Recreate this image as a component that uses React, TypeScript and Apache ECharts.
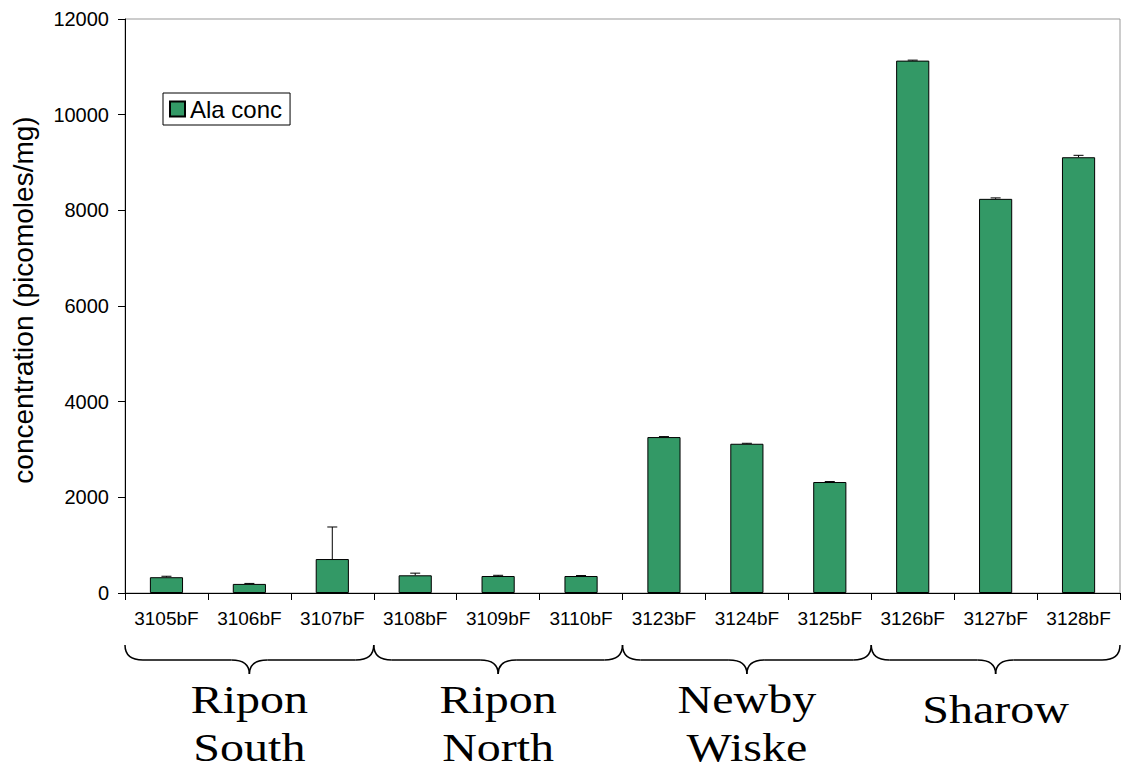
import React, { useEffect, useRef } from "react";
import * as echarts from "echarts";

const categories = ["3105bF", "3106bF", "3107bF", "3108bF", "3109bF", "3110bF", "3123bF", "3124bF", "3125bF", "3126bF", "3127bF", "3128bF"];
const alaConc = [330, 190, 710, 370, 355, 355, 3260, 3120, 2320, 11130, 8240, 9110];
const alaErr = [20, 10, 670, 45, 15, 10, 10, 10, 10, 10, 20, 40];
const groupNames = ["Ripon\nSouth", "Ripon\nNorth", "Newby\nWiske", "Sharow"];
const groupSizes = [3, 3, 3, 3];
const yTicks = { min: 0, max: 12000, interval: 2000 };
const yTitle = "concentration (picomoles/mg)";

const BAR = "#339966";

export default function App() {
  const ref = useRef<HTMLDivElement>(null);
  useEffect(() => {
    if (!ref.current) return;
    const chart = echarts.init(ref.current, null, { renderer: "svg" });
    chart.setOption({
      animation: false,
      grid: { left: 125, top: 19, right: 2, bottom: 177, show: true, borderColor: "#999", borderWidth: 1 },
      legend: {
        left: 163, top: 93, orient: "vertical",
        data: ["Ala conc"],
        borderColor: "#000", borderWidth: 1, padding: [4, 8, 4, 6],
        itemWidth: 15, itemHeight: 15, itemGap: 0,
        icon: "rect",
        textStyle: { fontFamily: "Liberation Sans, Arial", fontSize: 24, color: "#000" },
      },
      xAxis: {
        type: "category", data: categories,
        axisLine: { lineStyle: { color: "#000", width: 1 } },
        axisTick: { show: true, length: 7, lineStyle: { color: "#000" } },
        axisLabel: { color: "#000", fontFamily: "Liberation Sans, Arial", fontSize: 19, margin: 16, interval: 0 },
      },
      yAxis: {
        type: "value", min: yTicks.min, max: yTicks.max, interval: yTicks.interval,
        axisLine: { show: true, lineStyle: { color: "#000", width: 1 } },
        axisTick: { show: true, length: 7, lineStyle: { color: "#000" } },
        axisLabel: {
          color: "#000", fontFamily: "Liberation Sans, Arial", fontSize: 20, margin: 16,
          formatter: (v: number) => String(v),
        },
        splitLine: { show: false },
      },
      series: [
        {
          name: "Ala conc", type: "bar", data: alaConc, barWidth: "40%",
          itemStyle: { color: BAR, borderColor: "#000", borderWidth: 1 },
        },
        {
          name: "err", type: "custom",
          data: alaConc.map((v, i) => [i, v, v + alaErr[i]]),
          renderItem: (params: any, api: any) => {
            const p0 = api.coord([api.value(0), api.value(1)]);
            const p1 = api.coord([api.value(0), api.value(2)]);
            const s = { stroke: "#000", lineWidth: 1 };
            return {
              type: "group",
              children: [
                { type: "line", shape: { x1: p0[0], y1: p0[1], x2: p1[0], y2: p1[1] }, style: s },
                { type: "line", shape: { x1: p1[0] - 5, y1: p1[1], x2: p1[0] + 5, y2: p1[1] }, style: s },
              ],
            };
          },
          z: 3,
        },
      ],
    });

    // braces and group labels, aligned with the category axis
    const c0 = chart.convertToPixel({ xAxisIndex: 0 }, 0) as number;
    const c1 = chart.convertToPixel({ xAxisIndex: 0 }, 1) as number;
    const band = c1 - c0;
    const elements: any[] = [];
    let start = 0;
    const yTop = 645, yMid = 660, yTip = 674;
    const s = { stroke: "#000", lineWidth: 1.5, fill: null };
    groupSizes.forEach((n, gi) => {
      const x0 = c0 - band / 2 + start * band;
      const x1 = x0 + n * band;
      const mid = (x0 + x1) / 2;
      const r = 18;
      elements.push(
        { type: "bezierCurve", shape: { x1: x0, y1: yTop, x2: x0 + r, y2: yMid, cpx1: x0, cpy1: yMid }, style: s },
        { type: "line", shape: { x1: x0 + r, y1: yMid, x2: mid - r, y2: yMid }, style: s },
        { type: "bezierCurve", shape: { x1: mid - r, y1: yMid, x2: mid, y2: yTip, cpx1: mid, cpy1: yMid }, style: s },
        { type: "bezierCurve", shape: { x1: mid, y1: yTip, x2: mid + r, y2: yMid, cpx1: mid, cpy1: yMid }, style: s },
        { type: "line", shape: { x1: mid + r, y1: yMid, x2: x1 - r, y2: yMid }, style: s },
        { type: "bezierCurve", shape: { x1: x1 - r, y1: yMid, x2: x1, y2: yTop, cpx1: x1, cpy1: yMid }, style: s },
      );
      const single = groupNames[gi].indexOf("\n") < 0;
      elements.push({
        type: "text", x: mid, y: single ? 710 : 724, scaleX: 1.2,
        style: {
          text: groupNames[gi], x: 0, y: 0, align: "center", verticalAlign: "middle",
          font: "40px 'Liberation Serif', 'Times New Roman', serif", lineHeight: 48, fill: "#000",
        },
      });
      start += n;
    });
    elements.push({
      type: "text", x: 23, y: 300, rotation: Math.PI / 2,
      style: {
        text: yTitle, x: 0, y: 0, align: "center", verticalAlign: "middle",
        font: "28px 'Liberation Sans', Arial, sans-serif", fill: "#000",
      },
    });
    chart.setOption({ graphic: elements });
    return () => chart.dispose();
  }, []);
  return <div ref={ref} style={{ position: "absolute", left: 0, top: 0, width: 1122, height: 770 }} />;
}
